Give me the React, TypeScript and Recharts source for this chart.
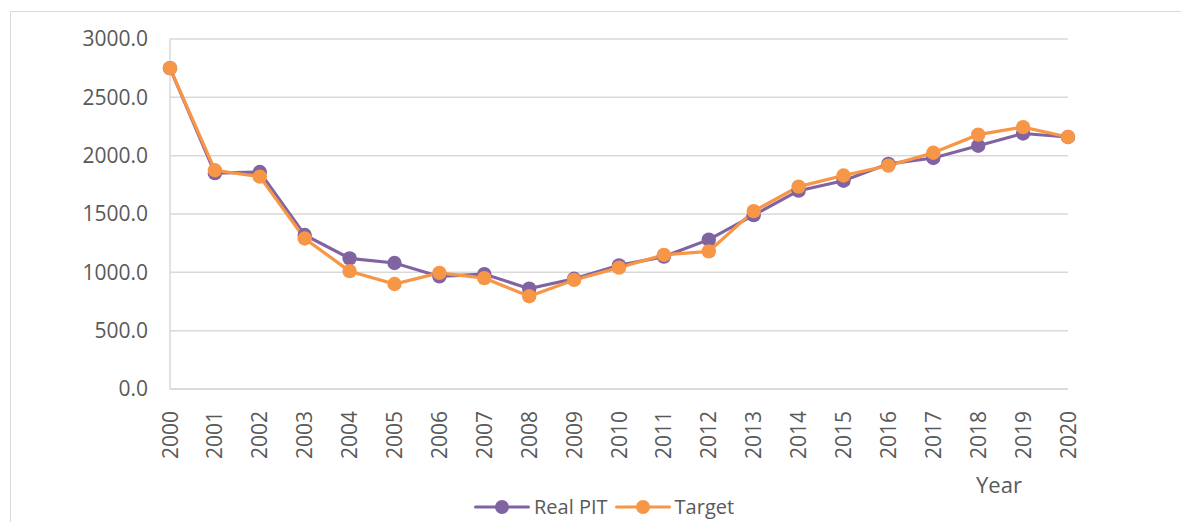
import React from "react";
import { LineChart, Line, XAxis, YAxis, CartesianGrid } from "recharts";

const years = ["2000", "2001", "2002", "2003", "2004", "2005", "2006", "2007", "2008", "2009", "2010",
  "2011", "2012", "2013", "2014", "2015", "2016", "2017", "2018", "2019", "2020"];
const realPit = [2750, 1850, 1860, 1320, 1120, 1080, 965, 985, 860, 945, 1060,
  1135, 1280, 1490, 1700, 1785, 1930, 1980, 2085, 2190, 2160];
const target = [2750, 1875, 1820, 1290, 1010, 900, 995, 950, 795, 935, 1040,
  1150, 1180, 1525, 1735, 1830, 1915, 2025, 2180, 2245, 2160];
const yTicks = [0, 500, 1000, 1500, 2000, 2500, 3000];

const data = years.map((y, i) => ({ year: y, real: realPit[i], target: target[i] }));

const FONT = "'Open Sans', sans-serif";
const TEXT = "#595959";
const PURPLE = "#8064a2";
const ORANGE = "#f79646";

function YearTick({ x, y, payload }: { x?: number; y?: number; payload?: { value: string } }) {
  const ty = (y ?? 0) + 14;
  return (
    <text
      x={x}
      y={ty}
      transform={`rotate(-90, ${x}, ${ty})`}
      textAnchor="end"
      dy="0.36em"
      fontSize={21}
      fontFamily={FONT}
      fill={TEXT}
    >
      {payload?.value}
    </text>
  );
}

// legend drawn as plain html under the plot, same look as the excel one
function ChartLegend() {
  const items = [
    { name: "Real PIT", color: PURPLE },
    { name: "Target", color: ORANGE },
  ];
  return (
    <div style={{ position: "absolute", left: 474, top: 493, display: "flex", alignItems: "center", gap: 7, fontFamily: FONT, fontSize: 20, color: TEXT, lineHeight: "28px" }}>
      {items.map((it) => (
        <div key={it.name} style={{ display: "flex", alignItems: "center", gap: 4 }}>
          <svg width={56} height={16}>
            <line x1={1.5} y1={8} x2={54.5} y2={8} stroke={it.color} strokeWidth={3} strokeLinecap="round" />
            <circle cx={28} cy={8} r={7} fill={it.color} />
          </svg>
          <span>{it.name}</span>
        </div>
      ))}
    </div>
  );
}

export default function App() {
  return (
    <div style={{ position: "absolute", left: 0, top: 0, width: 1181, height: 522, overflow: "hidden", background: "#fff" }}>
      <div style={{ position: "absolute", left: 10, top: 11, width: 1200, height: 600, border: "1px solid #d9d9d9" }} />
      <LineChart width={1181} height={522} data={data} margin={{ top: 39, right: 113, bottom: 0, left: 0 }}>
        <CartesianGrid vertical={false} stroke="#d9d9d9" strokeWidth={1.5} />
        <XAxis
          dataKey="year"
          height={133}
          tick={<YearTick />}
          tickLine={false}
          axisLine={{ stroke: "#d9d9d9", strokeWidth: 1.5 }}
          interval={0}
        />
        <YAxis
          width={170}
          domain={[0, 3000]}
          ticks={yTicks}
          tickFormatter={(v: number) => v.toFixed(1)}
          tick={{ fontSize: 21, fontFamily: FONT, fill: TEXT }}
          tickLine={false}
          tickSize={0}
          tickMargin={22}
          axisLine={{ stroke: "#d9d9d9", strokeWidth: 1.5 }}
        />
        <Line
          type="linear"
          dataKey="real"
          name="Real PIT"
          stroke={PURPLE}
          strokeWidth={3.2}
          dot={{ r: 7.2, fill: PURPLE, stroke: PURPLE, strokeWidth: 0 }}
          isAnimationActive={false}
        />
        <Line
          type="linear"
          dataKey="target"
          name="Target"
          stroke={ORANGE}
          strokeWidth={3.2}
          dot={{ r: 7.2, fill: ORANGE, stroke: ORANGE, strokeWidth: 0 }}
          isAnimationActive={false}
        />
      </LineChart>
      <ChartLegend />
      <div style={{ position: "absolute", left: 976, top: 469, fontFamily: FONT, fontSize: 22, color: TEXT }}>Year</div>
    </div>
  );
}
